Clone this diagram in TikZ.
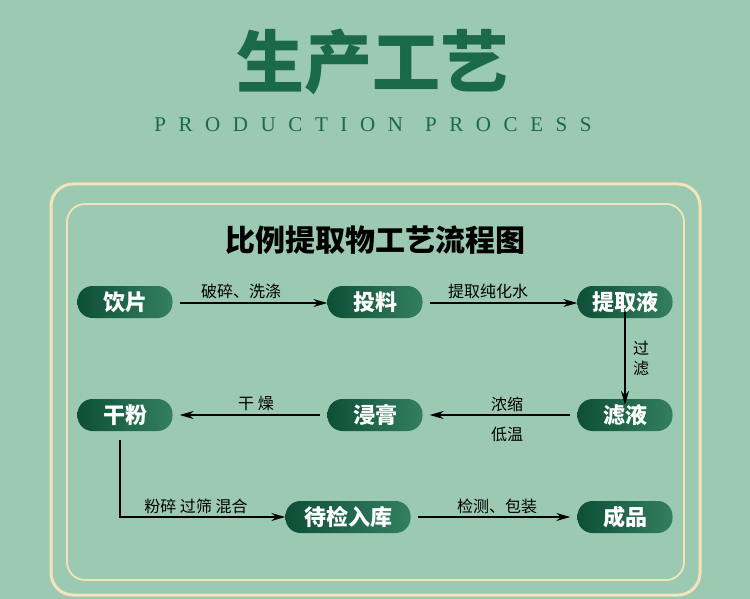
\documentclass[tikz,border=0pt]{standalone}
\usepackage{fontspec}
\newfontfamily\cjk{Noto Sans CJK SC}
\newfontfamily\lspace[LetterSpace=60]{Liberation Serif}
\usetikzlibrary{arrows.meta}
\definecolor{bg}{HTML}{9CC9B2}
\definecolor{cream}{HTML}{F3E4BC}
\definecolor{dk}{HTML}{0D4F37}
\definecolor{lt}{HTML}{347F60}
\definecolor{ttl}{HTML}{1A6A4A}
\begin{document}
\begin{tikzpicture}[x=1pt,y=-1pt,
 pill/.style={rounded corners=15pt,minimum height=32pt,minimum width=95pt,left color=dk,right color=lt,text=white,font=\cjk\bfseries\fontsize{22}{22}\selectfont,inner sep=0pt},
 lab/.style={font=\cjk\fontsize{16}{16}\selectfont,text=black},
 arr/.style={-{Stealth[length=14pt,width=8pt]},line width=1.2pt,black}]
\fill[bg] (0,0) rectangle (750,599);
\useasboundingbox (0,0) rectangle (750,599);
\draw[cream,line width=3pt,rounded corners=22pt] (51,184) rectangle (700,595);
\draw[cream,line width=1.8pt,rounded corners=18pt] (67,204) rectangle (684,580);
\node[font=\cjk\bfseries\fontsize{68}{68}\selectfont,text=ttl] (t) at (372,62) {生产工艺};
\node[font=\lspace\fontsize{21}{21}\selectfont,text=ttl] (st) at (373,125) {PRODUCTION\hspace{22pt}PROCESS};
\node[font=\cjk\bfseries\fontsize{30}{30}\selectfont] (h) at (375,240) {比例提取物工艺流程图};
\node[pill] (a) at (125,302) {饮片};
\node[pill] (b) at (375,302) {投料};
\node[pill] (c) at (625,302) {提取液};
\node[pill] (d) at (625,415) {滤液};
\node[pill] (e) at (375,415) {浸膏};
\node[pill] (f) at (125,415) {干粉};
\node[pill,minimum width=125pt] (g) at (348,517) {待检入库};
\node[pill] (k) at (625,517) {成品};
\draw[arr] (a.east)++(7,1) coordinate (a1) -- (b.west|-a1);
\node[lab] at (241,291) {破碎、洗涤};
\draw[arr] (b.east)++(7,1) coordinate (b1) -- (c.west|-b1);
\node[lab] at (488,291) {提取纯化水};
\draw[arr] ([yshift=6pt]c.south) -- ([yshift=-6pt]d.north);
\node[lab] at (641,348) {过};
\node[lab] at (641,368) {滤};
\draw[arr] ([xshift=-7pt]d.west) -- ([xshift=7pt]e.east);
\node[lab] at (507,404) {浓缩};
\node[lab] at (507,434) {低温};
\draw[arr] ([xshift=-7pt]e.west) -- ([xshift=7pt]f.east);
\node[lab] at (256,404) {干 燥};
\coordinate (fc) at (120,517);
\draw[arr] (120,440) -- (fc) -- (g.west);
\node[lab] at (196,506) {粉碎 过筛 混合};
\draw[arr] ([xshift=7pt]g.east) -- ([xshift=-7pt]k.west);
\node[lab] at (497,506) {检测、包装};
\end{tikzpicture}
\end{document}
